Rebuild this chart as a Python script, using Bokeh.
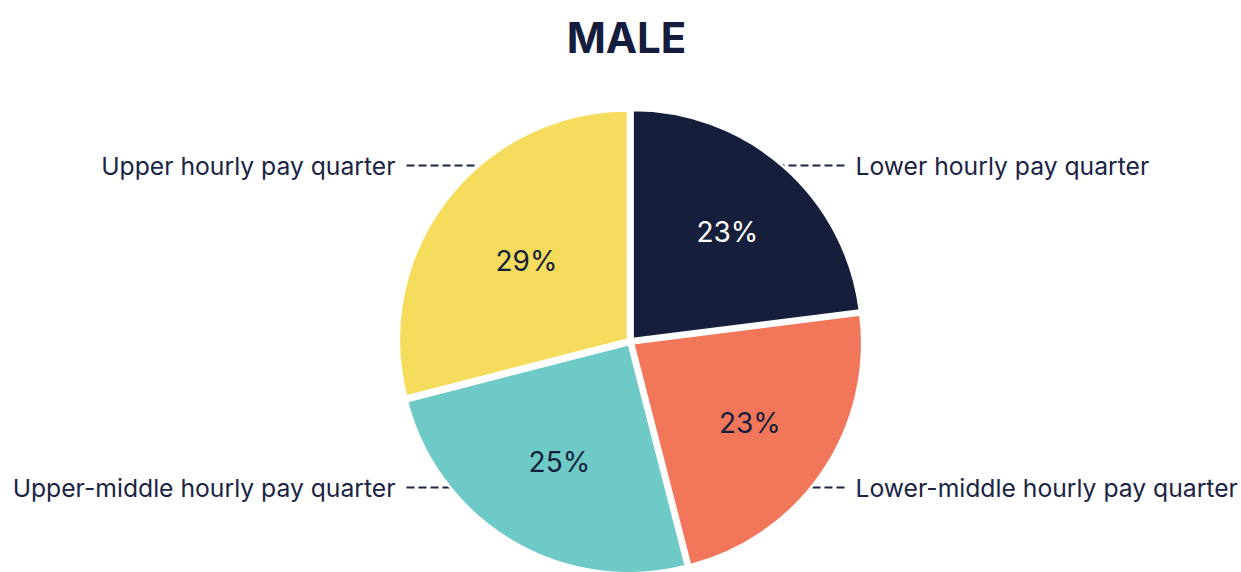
import numpy as np
from bokeh.plotting import figure
from bokeh.models import ColumnDataSource
from bokeh.core.properties import value
from bokeh.embed import file_html
from bokeh.resources import INLINE

# ---- data ----
categories = ["Lower hourly pay quarter", "Lower-middle hourly pay quarter",
              "Upper-middle hourly pay quarter", "Upper hourly pay quarter"]
shares = [23, 23, 25, 29]
colors = ["#151f3b", "#f2775a", "#6ecac7", "#f6dc5c"]
pct_colors = ["#ffffff", "#151f3b", "#151f3b", "#151f3b"]
title_text = "MALE"

# ---- layout ----
W, H = 1241, 572
CX, CY = 630, 231
R = 229
EXPLODE = 3.2
label_frac = [0.64, 0.63, 0.61, 0.575]
NAVY = "#1b2444"
FONT = "Inter"

vals = np.array(shares, dtype=float)
frac = vals / vals.sum()
ends = np.pi / 2 - 2 * np.pi * np.cumsum(frac)
starts = np.concatenate([[np.pi / 2], ends[:-1]])
mids = (starts + ends) / 2

src = ColumnDataSource(dict(
    x=CX + EXPLODE * np.cos(mids),
    y=CY + EXPLODE * np.sin(mids),
    start=ends, end=starts, color=colors, cat=categories,
))

lab = ColumnDataSource(dict(
    x=CX + R * np.array(label_frac) * np.cos(mids),
    y=CY + R * np.array(label_frac) * np.sin(mids),
    text=[f"{int(v)}%" for v in shares], color=pct_colors,
))

p = figure(width=W, height=H, x_range=(0, W), y_range=(0, H),
           output_backend="svg", toolbar_location=None,
           x_axis_location=None, y_axis_location=None,
           min_border=0, outline_line_color=None)
p.grid.visible = False
p.background_fill_color = "white"

# leader lines (drawn under the pie)
y_top, y_bot = 407, 85
p.segment(x0=[406, 844, 406, 844], y0=[y_top, y_top, y_bot, y_bot],
          x1=[510, 750, 480, 770], y1=[y_top, y_top, y_bot, y_bot],
          line_color=NAVY, line_width=2, line_dash="8 4")

p.wedge(x="x", y="y", radius=R, start_angle="start", end_angle="end",
        fill_color="color", line_color="white", line_width=2.5, source=src)

p.text(x="x", y="y", text="text", text_color="color", source=lab,
       text_font=value(FONT), text_font_size="28px", text_font_style="normal",
       text_align="center", text_baseline="middle")

# category labels
p.text(x=[855, 855], y=[y_top, y_bot], text=[categories[0], categories[1]],
       text_font=value(FONT), text_font_size="24.7px", text_color=NAVY,
       text_align="left", text_baseline="middle")
p.text(x=[395, 395], y=[y_top, y_bot], text=[categories[3], categories[2]],
       text_font=value(FONT), text_font_size="24.7px", text_color=NAVY,
       text_align="right", text_baseline="middle")

# title
p.text(x=[626], y=[535], text=[title_text], text_font=value(FONT),
       text_font_size="42px", text_font_style="bold", text_color="#141d3d",
       text_align="center", text_baseline="middle")

open("out.html", "w").write(file_html(p, INLINE))
